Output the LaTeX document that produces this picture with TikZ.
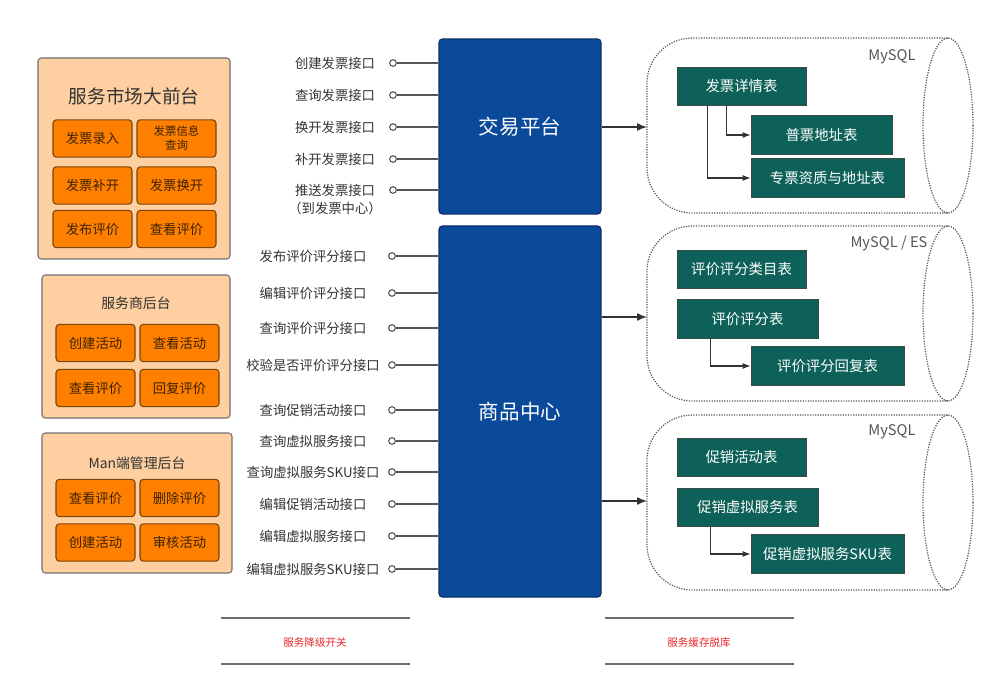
\documentclass[tikz,border=0pt]{standalone}
\usepackage{fontspec}
\setmainfont{Noto Sans CJK SC}
\usepackage{xcolor}
\usepackage{tikz}
\usetikzlibrary{arrows.meta}
\definecolor{ink}{HTML}{333333}
\definecolor{muted}{HTML}{555555}
\definecolor{panelfill}{HTML}{FDCFA1}
\definecolor{panelline}{HTML}{6E6E6E}
\definecolor{btnfill}{HTML}{FF8000}
\definecolor{btnline}{HTML}{7A4510}
\definecolor{btntext}{HTML}{3B2200}
\definecolor{core}{HTML}{0B4A9A}
\definecolor{coreline}{HTML}{0A2F66}
\definecolor{teal}{HTML}{0D6158}
\definecolor{tealline}{HTML}{3A4A48}
\definecolor{alert}{HTML}{E8262A}
\tikzset{
  panel/.style={draw=panelline, fill=panelfill, rounded corners=2.5pt, line width=0.8pt, inner sep=0pt},
  ptitle/.style={text=ink, font=\fontsize{10.4}{12}\selectfont},
  btn/.style={draw=btnline, fill=btnfill, rounded corners=2.5pt, line width=0.8pt, inner sep=0pt,
    minimum width=59.25pt, minimum height=28pt, text=btntext, font=\fontsize{10}{12}\selectfont},
  core/.style={draw=coreline, fill=core, rounded corners=2.5pt, line width=0.8pt, inner sep=0pt,
    minimum width=121.5pt, text=white, font=\fontsize{15.4}{18}\selectfont},
  api/.style={text=ink, font=\fontsize{10}{12}\selectfont, inner sep=0pt},
  port/.style={circle, draw=muted, fill=white, line width=0.8pt, inner sep=0pt, minimum size=5pt},
  wire/.style={draw=muted, line width=0.9pt},
  dbline/.style={draw=muted, densely dotted, line width=0.9pt},
  dblab/.style={text=muted, font=\fontsize{11}{13}\selectfont},
  tbl/.style={draw=tealline, fill=teal, line width=0.6pt, inner sep=0pt, minimum height=28.75pt,
    text=white, font=\fontsize{10.8}{13}\selectfont},
  flow/.style={draw=ink, line width=1.1pt, -{Latex[length=7.5pt,width=6pt]}},
  link/.style={draw=ink, line width=0.8pt, -{Latex[length=6pt,width=4.5pt]}},
  rule/.style={draw=panelline, line width=1.5pt},
  note/.style={text=alert, font=\fontsize{7.9}{9}\selectfont},
}
\begin{document}
\begin{tikzpicture}[x=0.75pt, y=-0.75pt]
  \useasboundingbox (0,0) rectangle (1000,688);

  % front-end panels
  \node[panel, minimum width=144pt, minimum height=150.75pt] (mkt) at (134,158.5) {};
  \node[ptitle, font=\fontsize{14}{16}\selectfont] (mkttitle) at (134,96) {服务市场大前台};
  \node[btn] (m1) at (92.5,138.5) {发票录入};
  \node[btn, align=center, font=\fontsize{8.6}{10.5}\selectfont] (m2) at (176.5,138.5) {发票信息\\查询};
  \node[btn] (m3) at (92.5,185.5) {发票补开};
  \node[btn] (m4) at (176.5,185.5) {发票换开};
  \node[btn] (m5) at (92.5,229) {发布评价};
  \node[btn] (m6) at (176.5,229) {查看评价};

  \node[panel, minimum width=141pt, minimum height=107.25pt] (sp) at (136,346.5) {};
  \node[ptitle] (sptitle) at (136,303) {服务商后台};
  \node[btn] (s1) at (95.5,343) {创建活动};
  \node[btn] (s2) at (179.5,343) {查看活动};
  \node[btn] (s3) at (95.5,388) {查看评价};
  \node[btn] (s4) at (179.5,388) {回复评价};

  \node[panel, minimum width=142.5pt, minimum height=105pt] (man) at (137,503) {};
  \node[ptitle] (mantitle) at (137,463) {Man端管理后台};
  \node[btn] (a1) at (95.5,498) {查看评价};
  \node[btn] (a2) at (179.5,498) {删除评价};
  \node[btn] (a3) at (95.5,542.5) {创建活动};
  \node[btn] (a4) at (179.5,542.5) {审核活动};

  % core services
  \node[core, minimum height=131.25pt] (trade) at (520,126.5) {交易平台};
  \node[core, minimum height=278.25pt] (goods) at (520,411.5) {商品中心};

  \foreach \y/\t [count=\i] in {63/创建发票接口, 95/查询发票接口, 127/换开发票接口,
      159/补开发票接口, 190/推送发票接口} {
    \node[api] (ta\i) at (335,\y) {\t};
    \node[port] (tp\i) at (393,\y) {};
    \draw[wire] (tp\i) -- (tp\i -| trade.west);
  }
  \node[api] (ta6) at (335,208) {（到发票中心）};

  \foreach \y/\t [count=\i] in {256/发布评价评分接口, 293/编辑评价评分接口, 328/查询评价评分接口,
      365/校验是否评价评分接口, 410/查询促销活动接口, 441/查询虚拟服务接口,
      472/查询虚拟服务SKU接口, 504/编辑促销活动接口, 536/编辑虚拟服务接口,
      569/编辑虚拟服务SKU接口} {
    \node[api] (ga\i) at (313,\y) {\t};
    \node[port] (gp\i) at (392,\y) {};
    \draw[wire] (gp\i) -- (gp\i -| goods.west);
  }

  % storage
  \foreach \t in {38,226,415} {
    \draw[dbline, rounded corners=34pt] (948,\t) -- (647,\t) -- (647,\t+175) -- (948,\t+175);
    \draw[dbline] (948,\t+87.5) ellipse [x radius=18.75pt, y radius=65.6pt];
  }
  \node[dblab] (db1) at (892,57) {MySQL};
  \node[dblab] (db2) at (889,243) {MySQL / ES};
  \node[dblab] (db3) at (892,432) {MySQL};

  \coordinate (db1in) at (647,127);
  \coordinate (db2in) at (647,317);
  \coordinate (db3in) at (647,501);
  \draw[flow] (trade.east |- db1in) -- (db1in);
  \draw[flow] (goods.east |- db2in) -- (db2in);
  \draw[flow] (goods.east |- db3in) -- (db3in);

  \node[tbl, minimum width=96.75pt] (inv) at (741.5,86.5) {发票详情表};
  \node[tbl, minimum width=105.75pt] (pp) at (821.5,135) {普票地址表};
  \node[tbl, minimum width=114.75pt] (zp) at (827.5,178) {专票资质与地址表};
  \draw[link] ([xshift=37.5pt]inv.south west) |- (pp.west);
  \draw[link] ([xshift=23.25pt]inv.south west) |- (zp.west);

  \node[tbl, minimum width=96.75pt] (cat) at (741.5,269.5) {评价评分类目表};
  \node[tbl, minimum width=105.75pt] (score) at (747.5,319) {评价评分表};
  \node[tbl, minimum width=114.75pt] (reply) at (827.5,366) {评价评分回复表};
  \draw[link] ([xshift=25.5pt]score.south west) |- (reply.west);

  \node[tbl, minimum width=96.75pt] (promo) at (741.5,457.5) {促销活动表};
  \node[tbl, minimum width=105.75pt] (psvc) at (747.5,507.5) {促销虚拟服务表};
  \node[tbl, minimum width=114.75pt] (psku) at (827.5,554) {促销虚拟服务SKU表};
  \draw[link] ([xshift=25.5pt]psvc.south west) |- (psku.west);

  % switches
  \draw[rule] (221,618) -- (410,618);
  \draw[rule] (221,664) -- (410,664);
  \node[note] (degrade) at (315,643) {服务降级开关};
  \draw[rule] (605,618) -- (794,618);
  \draw[rule] (605,664) -- (794,664);
  \node[note] (cache) at (699,643) {服务缓存脱库};
\end{tikzpicture}
\end{document}
